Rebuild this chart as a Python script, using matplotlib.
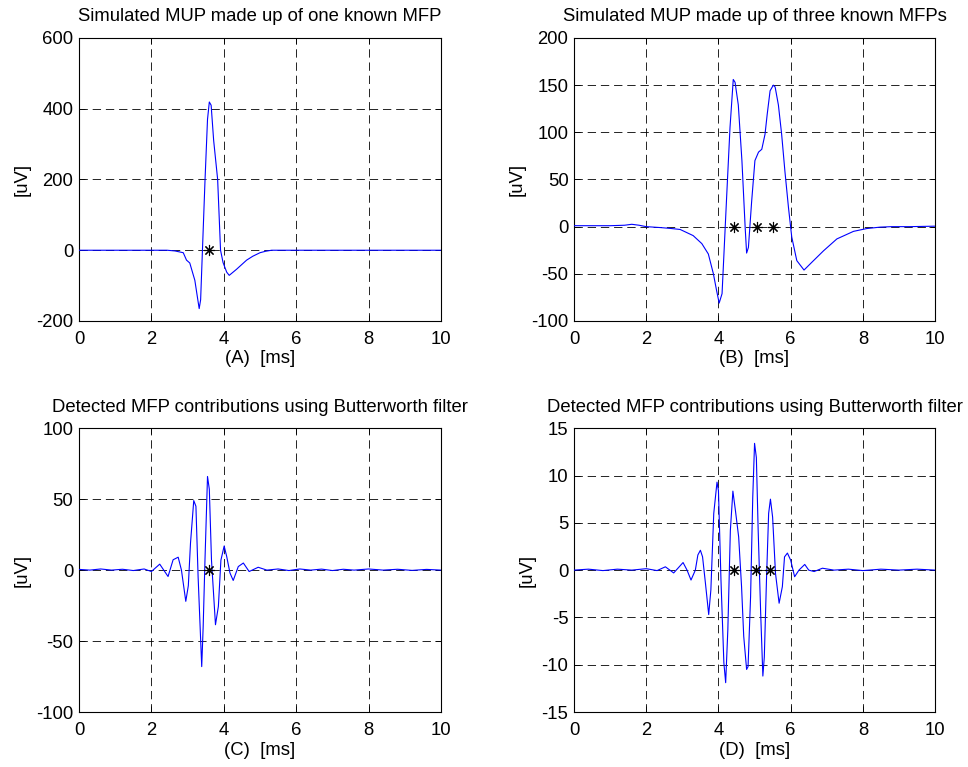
import numpy as np
import matplotlib
matplotlib.use("Agg")
import matplotlib.pyplot as plt

plt.rcParams['font.family'] = ['Liberation Sans', 'DejaVu Sans']
plt.rcParams['lines.scale_dashes'] = False
plt.rcParams['axes.unicode_minus'] = False

# (A) simulated MUP, one MFP
a_t = [0, 2.43, 2.65, 2.88, 2.97, 3.06, 3.2, 3.27, 3.32, 3.36, 3.41, 3.48, 3.55,
       3.6, 3.65, 3.72, 3.83, 3.91, 3.98, 4.08, 4.15, 4.35, 4.63, 4.8, 5.0, 5.15, 5.32, 10]
a_v = [0, 0, -2, -7, -28, -36, -85, -132, -165, -140, 0, 195, 370,
       419, 410, 310, 200, 0, -35, -62, -71, -54, -28, -17, -7, -3, 0, 0]
a_star = [3.6]

# (B) simulated MUP, three MFPs
b_t = [0, 0.5, 1.0, 1.4, 1.6, 1.8, 2.0, 2.4, 2.7, 2.94, 3.3, 3.54, 3.72, 3.86, 3.95,
       4.02, 4.1, 4.23, 4.32, 4.41, 4.46, 4.55, 4.65, 4.74, 4.78, 4.83, 4.92, 5.01,
       5.11, 5.2, 5.29, 5.35, 5.43, 5.52, 5.57, 5.66, 5.75, 5.84, 5.94, 6.03, 6.17,
       6.37, 6.58, 6.91, 7.28, 7.74, 8.11, 8.48, 8.8, 9.3, 10]
b_v = [1, 1, 1, 1.5, 2.5, 1.5, 0, -1, -2, -3, -9.5, -18, -29, -50, -68,
       -81, -71, 34, 105, 156, 153, 129, 70, -1, -28, -22, 27, 70,
       79, 82, 98, 119, 144, 150, 148, 129, 98, 59, 20, -11, -36,
       -46, -38, -25.6, -13, -5, -2, -0.5, 0, 0, 0.5]
b_star = [4.43, 5.08, 5.52]

# (C) detected contributions, one MFP
c_t = [0, 0.3, 0.6, 0.9, 1.2, 1.5, 1.8, 2.0, 2.23, 2.46, 2.6, 2.74, 2.83, 2.95, 3.02,
       3.08, 3.17, 3.23, 3.29, 3.39, 3.43, 3.48, 3.55, 3.6, 3.66, 3.77, 3.85, 3.92,
       4.01, 4.08, 4.17, 4.26, 4.4, 4.54, 4.7, 4.95, 5.19, 5.5, 5.8, 6.1, 6.4, 6.7,
       7.0, 7.3, 7.6, 8.0, 8.4, 8.8, 9.2, 9.6, 10]
c_v = [0.5, 0, 0.8, 0, 0.6, -0.3, 0.8, -1, 4.2, -4.5, 7.3, 9.1, 0, -22, -11,
       19, 49, 45, -4.5, -68, -40, 7, 66, 57, 7, -38.5, -25.6, 7,
       17, 9.6, -2, -7.3, 2.5, 5, -1, 2, 0, 0.8, -0.3, 0.8, 0, 0.7,
       -0.3, 0.6, 0, 0.8, 0, 0.6, -0.2, 0.5, 0]
c_star = [3.6]

# (D) detected contributions, three MFPs
d_t = [0, 0.4, 0.8, 1.2, 1.6, 2.0, 2.3, 2.53, 2.76, 3.02, 3.13, 3.24, 3.36, 3.43, 3.5,
       3.56, 3.64, 3.73, 3.79, 3.87, 3.96, 4.0, 4.07, 4.15, 4.2, 4.26, 4.33, 4.4,
       4.47, 4.56, 4.64, 4.7, 4.78, 4.82, 4.89, 4.95, 5.0, 5.05, 5.1, 5.17, 5.23,
       5.27, 5.33, 5.39, 5.44, 5.5, 5.58, 5.68, 5.77, 5.83, 5.91, 6.0, 6.11, 6.23,
       6.39, 6.5, 6.65, 6.88, 7.2, 7.6, 8.0, 8.5, 9.0, 9.5, 10]
d_v = [0, 0.1, -0.05, 0.1, 0, 0.15, -0.05, 0.35, -0.3, 0.8, 0, -1.05, 0, 1.6, 2.1,
       1.4, -1.4, -4.7, -2.1, 6, 9.3, 8.4, -1.05, -9.8, -11.9, -6.3, 4.2, 8.35,
       6.3, 3.5, -1.75, -7, -10.5, -10.2, -2.8, 7.7, 13.4, 11.9, 4.2, -4.6, -11.2,
       -9.2, -1.05, 6, 7.5, 5.6, -0.35, -3.5, -1.75, 1.4, 1.8, 1.05, -0.7, 0,
       0.6, 0, -0.15, 0.2, 0, 0.1, -0.05, 0.1, 0, 0.1, 0]
d_star = [4.43, 5.04, 5.44]

titles = ["Simulated MUP made up of one known MFP",
          "Simulated MUP made up of three known MFPs",
          "Detected MFP contributions using Butterworth filter",
          "Detected MFP contributions using Butterworth filter"]
xlabels = ["(A)  [ms]", "(B)  [ms]", "(C)  [ms]", "(D)  [ms]"]
ylims = [(-200, 600), (-100, 200), (-100, 100), (-15, 15)]
ysteps = [200, 50, 50, 5]

fig = plt.figure(figsize=(9.68, 7.67), dpi=100)
rects = [[0.0816, 0.5815, 0.374, 0.369],
         [0.593, 0.5815, 0.373, 0.369],
         [0.0816, 0.0717, 0.374, 0.370],
         [0.593, 0.0717, 0.373, 0.370]]
series = [(a_t, a_v, a_star), (b_t, b_v, b_star), (c_t, c_v, c_star), (d_t, d_v, d_star)]

fs = 13.3
for i in range(4):
    ax = fig.add_axes(rects[i])
    t, v, st = series[i]
    ax.plot(t, v, color=(0, 0, 1), lw=0.8, zorder=3)
    ax.plot(st, [0] * len(st), linestyle='none', marker=(8, 2, 0), color='k',
            markersize=8, mew=0.8, zorder=4)
    lo, hi = ylims[i]
    ax.set_xlim(0, 10)
    ax.set_ylim(lo, hi)
    ax.set_xticks(np.arange(0, 11, 2))
    ax.set_yticks(np.arange(lo, hi + 1, ysteps[i]))
    ax.grid(True, color='k', lw=0.6, linestyle=(0, (6, 3.5)))
    ax.tick_params(direction='in', top=True, right=True, length=4, width=0.6,
                   labelsize=fs)
    ax.tick_params(axis='x', pad=7)
    ax.tick_params(axis='y', pad=4)
    for s in ax.spines.values():
        s.set_linewidth(0.8)
    ax.set_title(titles[i], fontsize=fs, pad=12)
    ax.set_xlabel(xlabels[i], fontsize=fs, labelpad=2)
    ax.set_ylabel("[uV]", fontsize=fs, labelpad=4)

plt.savefig("out.png", dpi=100)
